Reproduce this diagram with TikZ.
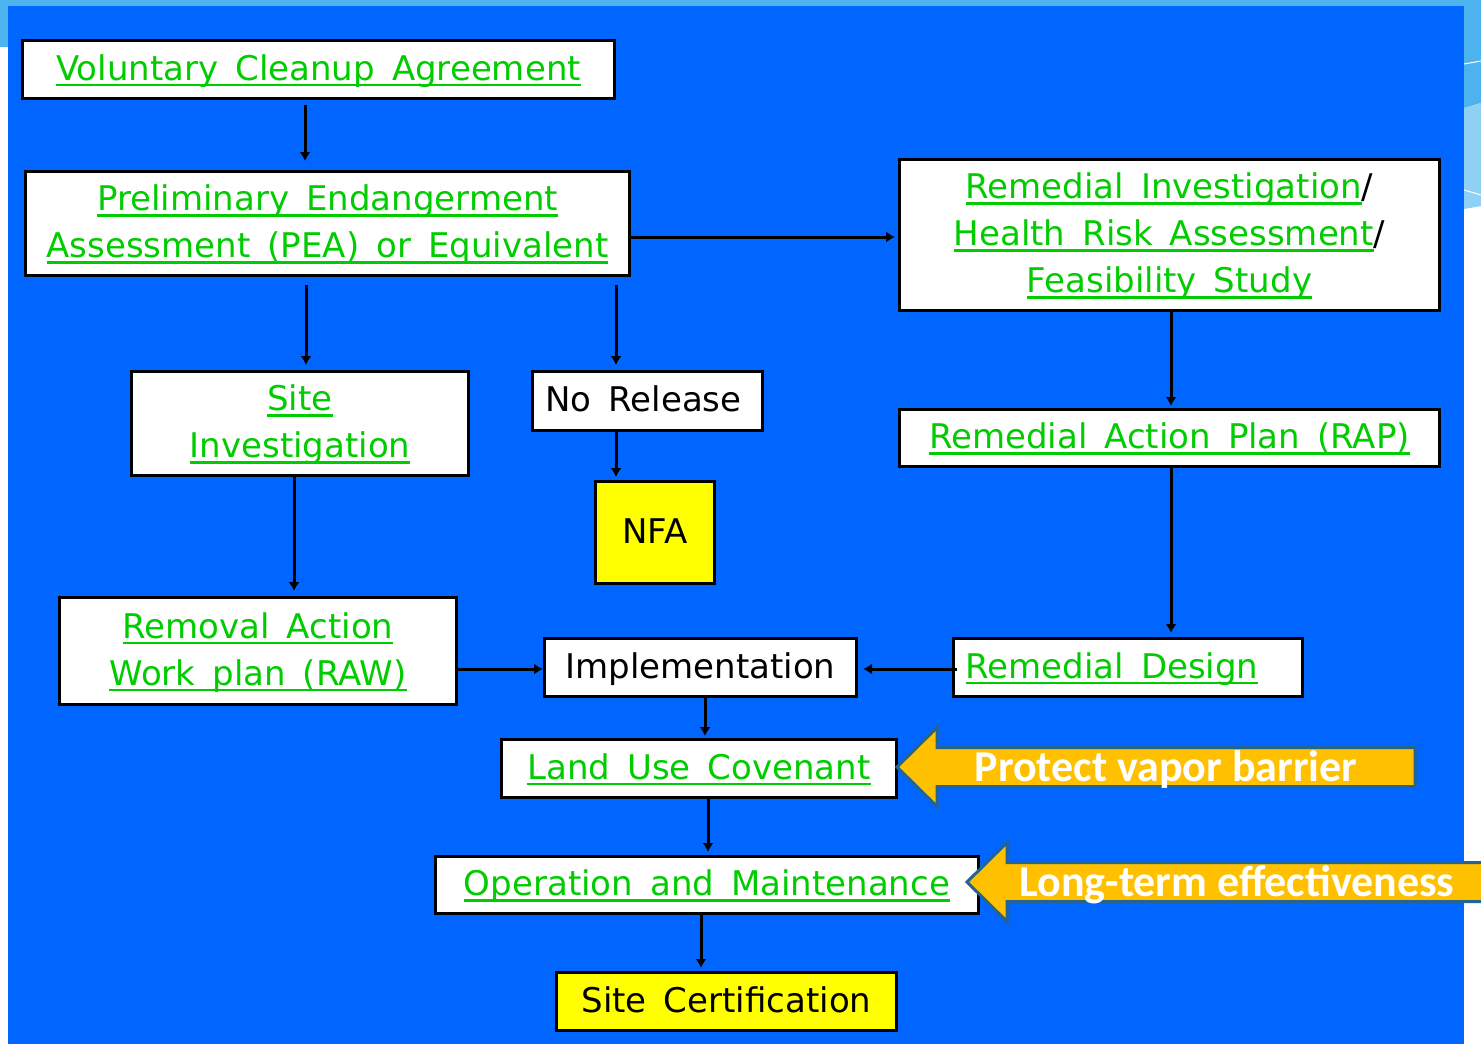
\documentclass[tikz,border=0pt]{standalone}
\usepackage{fontspec}
\setmainfont{DejaVu Sans}
\newfontfamily\calfont{Carlito}
\usetikzlibrary{arrows.meta}
\definecolor{bgblue}{RGB}{0,102,255}
\definecolor{ltblue}{RGB}{77,179,238}
\definecolor{ltblueb}{RGB}{143,208,245}
\definecolor{lgreen}{RGB}{0,204,0}
\definecolor{orng}{RGB}{255,192,0}
\definecolor{orngline}{RGB}{35,100,145}
\definecolor{ylw}{RGB}{255,255,0}
\newcommand\gunder[1]{\setbox0\hbox{#1}\rlap{\color{lgreen}\rule[-6pt]{\wd0}{2.5pt}}\box0}
\newcommand\mystrut{\rule[-9pt]{0pt}{39pt}}
\newcommand\widespace{\spaceskip=17pt\relax}
\begin{document}
\begin{tikzpicture}[x=1pt,y=-1pt,
  box/.style={draw=black,line width=3pt,fill=white,inner sep=0pt,text=lgreen,align=center,
    font=\fontsize{34}{47}\selectfont\widespace},
  blackbox/.style={box,text=black},
  yellowbox/.style={box,fill=ylw,text=black},
  conn/.style={line width=3pt,draw=black,-{Latex[length=9pt,width=11pt]}},
  barrow/.style={fill=orng,draw=orngline,line width=3pt,line join=miter},
  btext/.style={anchor=base,text=white,font=\calfont\bfseries\fontsize{44}{50}\selectfont}]
\useasboundingbox (0,0) rectangle (1481,1044);
% background
\fill[white] (0,0) rectangle (1481,1044);
\fill[ltblue] (0,0) rectangle (1481,6);
\fill[ltblue] (0,0) rectangle (8,47);
\fill[ltblue] (1464,0) -- (1481,0) -- (1481,103) -- (1464,108) -- cycle;
\fill[ltblueb] (1464,108) -- (1481,103) -- (1481,206) -- (1464,209) -- cycle;
\draw[white,line width=1pt] (1464,64) -- (1481,61);
\draw[white,line width=1pt] (1464,190) -- (1481,195);
\fill[bgblue] (8,6) rectangle (1464,1044);

% boxes
\node[box,minimum width=592pt,minimum height=58pt] (vca) at (318.5,69.5)
  {\mystrut\gunder{Voluntary Cleanup Agreement}};
\node[box,minimum width=604pt,minimum height=104pt] (pea) at (327.5,223.5)
  {\mystrut\gunder{Preliminary Endangerment}\\\mystrut\gunder{Assessment (PEA) or Equivalent}};
\node[box,minimum width=540pt,minimum height=151pt] (ri) at (1169.5,235)
  {\mystrut\gunder{Remedial Investigation}{\color{black}/}\\\mystrut\gunder{Health Risk Assessment}{\color{black}/}\\\mystrut\gunder{Feasibility Study}};
\node[box,minimum width=337pt,minimum height=104pt] (si) at (300,423.5)
  {\mystrut\gunder{Site}\\\mystrut\gunder{Investigation}};
\node[blackbox,minimum width=230pt,minimum height=59pt] (nr) at (647.5,401)
  {\mystrut\hspace*{-8pt}No Release};
\node[yellowbox,minimum width=119pt,minimum height=102pt] (nfa) at (655,532.5)
  {\mystrut NFA};
\node[box,minimum width=540pt,minimum height=57pt] (rap) at (1169.5,438)
  {\mystrut\gunder{Remedial Action Plan (RAP)}};
\node[box,minimum width=397pt,minimum height=107pt] (raw) at (258,651)
  {\mystrut\gunder{Removal Action}\\\mystrut\gunder{Work plan (RAW)}};
\node[blackbox,minimum width=312pt,minimum height=58pt] (impl) at (700.5,667.5)
  {\mystrut Implementation};
\node[box,minimum width=349pt,minimum height=58pt] (rd) at (1128,667.5)
  {\mystrut\hspace*{-32pt}\gunder{Remedial Design}};
\node[box,minimum width=395pt,minimum height=58pt] (luc) at (699,768.5)
  {\mystrut\gunder{Land Use Covenant}};
\node[box,minimum width=543pt,minimum height=57pt] (om) at (707,885)
  {\mystrut\gunder{Operation and Maintenance}};
\node[yellowbox,minimum width=340pt,minimum height=58pt] (sc) at (726.5,1001.5)
  {\mystrut Site Certification};

% connectors
\draw[conn,shorten <=5pt,shorten >=9pt] ([xshift=-13.5pt]vca.south) -- ([xshift=-22.5pt]pea.north);
\draw[conn,shorten >=3pt] ([yshift=-13.5pt]pea.east) -- ([yshift=-2pt]ri.west);
\draw[conn,shorten <=8pt,shorten >=5pt] ([xshift=-21.5pt]pea.south) -- ([xshift=6pt]si.north);
\draw[conn,shorten <=8pt,shorten >=5pt] ([xshift=288.5pt]pea.south) -- ([xshift=-31.5pt]nr.north);
\draw[conn,shorten >=3pt] ([xshift=-31.5pt]nr.south) -- ([xshift=-39pt]nfa.north);
\draw[conn,shorten >=5pt] ([xshift=-6pt]si.south) -- ([xshift=36pt]raw.north);
\draw[conn,shorten >=2pt] ([xshift=1.5pt]ri.south) -- ([xshift=1.5pt]rap.north);
\draw[conn,shorten >=4pt] ([xshift=1.5pt]rap.south) -- ([xshift=43pt]rd.north);
\draw[conn] ([yshift=-18pt]raw.east) -- ([yshift=-1.5pt]impl.west);
\draw[conn,shorten <=-5pt,shorten >=5pt] ([yshift=-1.5pt]rd.west) -- ([yshift=-1.5pt]impl.east);
\draw[conn,shorten >=2pt] ([xshift=4.5pt]impl.south) -- ([xshift=6pt]luc.north);
\draw[conn,shorten >=3pt] ([xshift=9pt]luc.south) -- ([xshift=1pt]om.north);
\draw[conn,shorten >=3pt] ([xshift=-6pt]om.south) -- ([xshift=-25.5pt]sc.north);

% callout arrows
\draw[barrow] (897,767) -- (937,727.5) -- (937,747.5) -- (1415,747.5) -- (1415,786.5)
  -- (937,786.5) -- (937,806.5) -- cycle;
\node[btext] (pvb) at (1166,781) {Protect vapor barrier};
\draw[barrow] (967,882) -- (1007,842.5) -- (1007,862.5) -- (1490,862.5) -- (1490,901.5)
  -- (1007,901.5) -- (1007,921.5) -- cycle;
\node[btext] (lte) at (1237,896) {Long-term effectiveness};
\end{tikzpicture}
\end{document}
